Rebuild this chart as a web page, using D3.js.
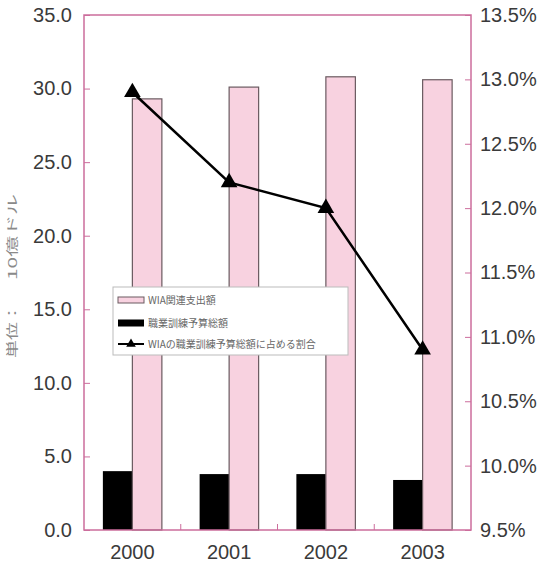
<!DOCTYPE html>
<html>
<head>
<meta charset="utf-8">
<script src="https://cdn.jsdelivr.net/npm/d3@7"></script>
<style>
  body { margin: 0; background: #fff; }
  .tick-label { font-family: "Liberation Sans", Arial, sans-serif; font-size: 20px; fill: #3a3a3a; }
  .legend-text { font-family: "Noto Sans CJK JP", sans-serif; font-size: 10px; fill: #666; }
</style>
</head>
<body>
<div id="chart"></div>
<script>
var svgWidth = 537;
var svgHeight = 562;

// plot area
var margin = { top: 15, right: 66, bottom: 32, left: 84 };
var width = svgWidth - margin.left - margin.right;
var height = svgHeight - margin.top - margin.bottom;

// data
var years = ["2000", "2001", "2002", "2003"];
var wiaSpending = [29.3, 30.1, 30.8, 30.6];     // WIA関連支出額 (pink)
var trainingBudget = [4.0, 3.8, 3.8, 3.4];      // 職業訓練予算総額 (black)
var wiaShare = [12.9, 12.2, 12.0, 10.9];        // 割合 (%)
var leftTicks = [0, 5, 10, 15, 20, 25, 30, 35];
var rightTicks = [9.5, 10.0, 10.5, 11.0, 11.5, 12.0, 12.5, 13.0, 13.5];
var legendLabels = ["WIA関連支出額", "職業訓練予算総額", "WIAの職業訓練予算総額に占める割合"];

var frameColor = "#cc6d9c";
var pinkFill = "#f8d2e0";

var svg = d3.select("#chart")
    .append("svg")
    .attr("width", svgWidth)
    .attr("height", svgHeight);

var chartGroup = svg.append("g")
    .attr("transform", `translate(${margin.left}, ${margin.top})`);

var x = d3.scaleBand().domain(years).range([0, width]);
var yLeft = d3.scaleLinear().domain([0, 35]).range([height, 0]);
var yRight = d3.scaleLinear().domain([9.5, 13.5]).range([height, 0]);

var barW = 29.5;

// bars - black first (left), pink (right)
chartGroup.selectAll(".bar-black")
    .data(years)
    .enter().append("rect")
    .attr("class", "bar-black")
    .attr("x", d => x(d) + x.bandwidth() / 2 - barW)
    .attr("y", (d, i) => yLeft(trainingBudget[i]))
    .attr("width", barW)
    .attr("height", (d, i) => height - yLeft(trainingBudget[i]))
    .attr("fill", "#000");

chartGroup.selectAll(".bar-pink")
    .data(years)
    .enter().append("rect")
    .attr("class", "bar-pink")
    .attr("x", d => x(d) + x.bandwidth() / 2)
    .attr("y", (d, i) => yLeft(wiaSpending[i]))
    .attr("width", barW)
    .attr("height", (d, i) => height - yLeft(wiaSpending[i]))
    .attr("fill", pinkFill)
    .attr("stroke", "#6a5a60")
    .attr("stroke-width", 1.2);

// frame
chartGroup.append("rect")
    .attr("width", width)
    .attr("height", height)
    .attr("fill", "none")
    .attr("stroke", frameColor)
    .attr("stroke-width", 1.5);

// axes (inward ticks)
var leftAxis = d3.axisLeft(yLeft).tickValues(leftTicks).tickSize(-6).tickPadding(12)
    .tickFormat(d3.format(".1f"));
var gl = chartGroup.append("g").call(leftAxis);

var rightAxis = d3.axisRight(yRight).tickValues(rightTicks).tickSize(-6).tickPadding(9)
    .tickFormat(d => d.toFixed(1) + "%");
var gr = chartGroup.append("g").attr("transform", `translate(${width}, 0)`).call(rightAxis);

var bottomAxis = d3.axisBottom(x).tickSize(0).tickPadding(15);
var gb = chartGroup.append("g").attr("transform", `translate(0, ${height})`).call(bottomAxis);

[gl, gr, gb].forEach(function(g) {
    g.select(".domain").remove();
    g.selectAll(".tick line").attr("stroke", frameColor);
    g.selectAll("text").attr("class", "tick-label").attr("fill", null).style("font-size", null).style("font-family", null);
});
gl.selectAll("text").attr("font-size", null).attr("font-family", null);
gr.selectAll("text").attr("font-size", null).attr("font-family", null);
gb.selectAll("text").attr("font-size", null).attr("font-family", null);
svg.selectAll("g").attr("font-size", null).attr("font-family", null);

// tick marks between categories on the bottom axis
chartGroup.selectAll(".xsep")
    .data(years.slice(1))
    .enter().append("line")
    .attr("x1", d => x(d)).attr("x2", d => x(d))
    .attr("y1", height).attr("y2", height - 6)
    .attr("stroke", frameColor);

// line series
var line = d3.line()
    .x((d, i) => x(years[i]) + x.bandwidth() / 2)
    .y(d => yRight(d));

chartGroup.append("path")
    .datum(wiaShare)
    .attr("d", line)
    .attr("fill", "none")
    .attr("stroke", "#000")
    .attr("stroke-width", 2.5);

var tri = d3.symbol().type(d3.symbolTriangle).size(120);
chartGroup.selectAll(".marker")
    .data(wiaShare)
    .enter().append("path")
    .attr("d", tri)
    .attr("transform", (d, i) => `translate(${x(years[i]) + x.bandwidth() / 2}, ${yRight(d)})`)
    .attr("fill", "#000");

// legend
var legend = svg.append("g").attr("transform", "translate(113, 287)");
legend.append("rect")
    .attr("width", 235).attr("height", 68)
    .attr("fill", "#fff")
    .attr("stroke", "#bbb")
    .attr("stroke-width", 1);

var rows = [13, 36, 57];
legend.append("rect").attr("x", 5).attr("y", rows[0] - 3).attr("width", 26).attr("height", 6)
    .attr("fill", pinkFill).attr("stroke", "#6a5a60");
legend.append("rect").attr("x", 5).attr("y", rows[1] - 3.5).attr("width", 26).attr("height", 7)
    .attr("fill", "#000");
legend.append("line").attr("x1", 5).attr("x2", 31).attr("y1", rows[2]).attr("y2", rows[2])
    .attr("stroke", "#000").attr("stroke-width", 2);
legend.append("path").attr("d", d3.symbol().type(d3.symbolTriangle).size(40))
    .attr("transform", `translate(18, ${rows[2]})`).attr("fill", "#000");

legend.selectAll(".legend-text")
    .data(legendLabels)
    .enter().append("text")
    .attr("class", "legend-text")
    .attr("x", 35)
    .attr("y", (d, i) => rows[i])
    .attr("dy", "0.35em")
    .text(d => d);

// left axis title, in two pieces with a wide gap
var titleParts = [
    { text: "単位：", center: 331, len: 54 },
    { text: "10億ドル", center: 237, len: 86 }
];
svg.selectAll(".ytitle")
    .data(titleParts)
    .enter().append("text")
    .attr("class", "ytitle")
    .attr("transform", d => `translate(17, ${d.center}) rotate(-90)`)
    .attr("text-anchor", "middle")
    .attr("font-family", "Noto Sans CJK JP, sans-serif")
    .attr("font-size", "12px")
    .attr("fill", "#8a8a8a")
    .attr("textLength", d => d.len)
    .attr("lengthAdjust", "spacingAndGlyphs")
    .text(d => d.text);
</script>
</body>
</html>
